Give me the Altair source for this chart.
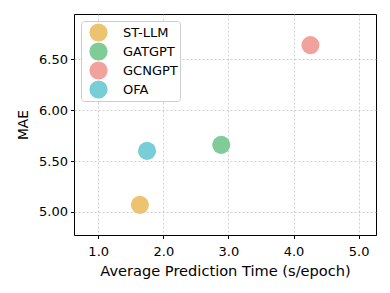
import altair as alt
import pandas as pd

models = ["ST-LLM", "GATGPT", "GCNGPT", "OFA"]
time_s = [1.64, 2.89, 4.26, 1.75]
mae = [5.07, 5.66, 6.64, 5.60]
colors = ["#EBC371", "#80CC98", "#F2A29C", "#78CED6"]

df = pd.DataFrame({"model": models, "time": time_s, "mae": mae})

font = "DejaVu Sans"

chart = alt.Chart(df).mark_circle(size=330, opacity=1).encode(
    x=alt.X("time:Q", title="Average Prediction Time (s/epoch)",
            scale=alt.Scale(domain=[0.628, 5.267], nice=False, zero=False),
            axis=alt.Axis(values=[1, 2, 3, 4, 5], format=".1f",
                          titleFontSize=14.6, titlePadding=5, labelPadding=7)),
    y=alt.Y("mae:Q", title="MAE",
            scale=alt.Scale(domain=[4.774, 6.945], nice=False, zero=False),
            axis=alt.Axis(values=[5.0, 5.5, 6.0, 6.5], format=".2f",
                          titleFontSize=13.8, titlePadding=8, labelPadding=3)),
    color=alt.Color("model:N", sort=models,
                    scale=alt.Scale(domain=models, range=colors),
                    legend=alt.Legend(title=None, orient="none", legendX=7, legendY=7,
                                      symbolSize=330, symbolType="circle",
                                      symbolStrokeWidth=0, symbolOpacity=1,
                                      symbolOffset=6,
                                      rowPadding=0, labelFontSize=13, labelFont=font,
                                      labelColor="black",
                                      labelOffset=15, padding=2,
                                      strokeColor="#cccccc", cornerRadius=3,
                                      fillColor="white")),
).properties(
    width=302, height=221,
    autosize=alt.AutoSizeParams(type="none"),
    padding={"left": 66, "top": 6, "right": 6, "bottom": 50},
).configure_view(
    stroke="black", strokeWidth=1
).configure_axis(
    grid=True, gridDash=[2, 2], gridColor="#bbbbbb", gridWidth=0.7,
    domain=False, tickColor="black", tickSize=3.5,
    labelFont=font, labelFontSize=13, labelColor="black",
    titleFont=font, titleFontWeight="normal", titleColor="black",
)

chart.save("out.html", embed_options={"renderer": "svg", "actions": False})
